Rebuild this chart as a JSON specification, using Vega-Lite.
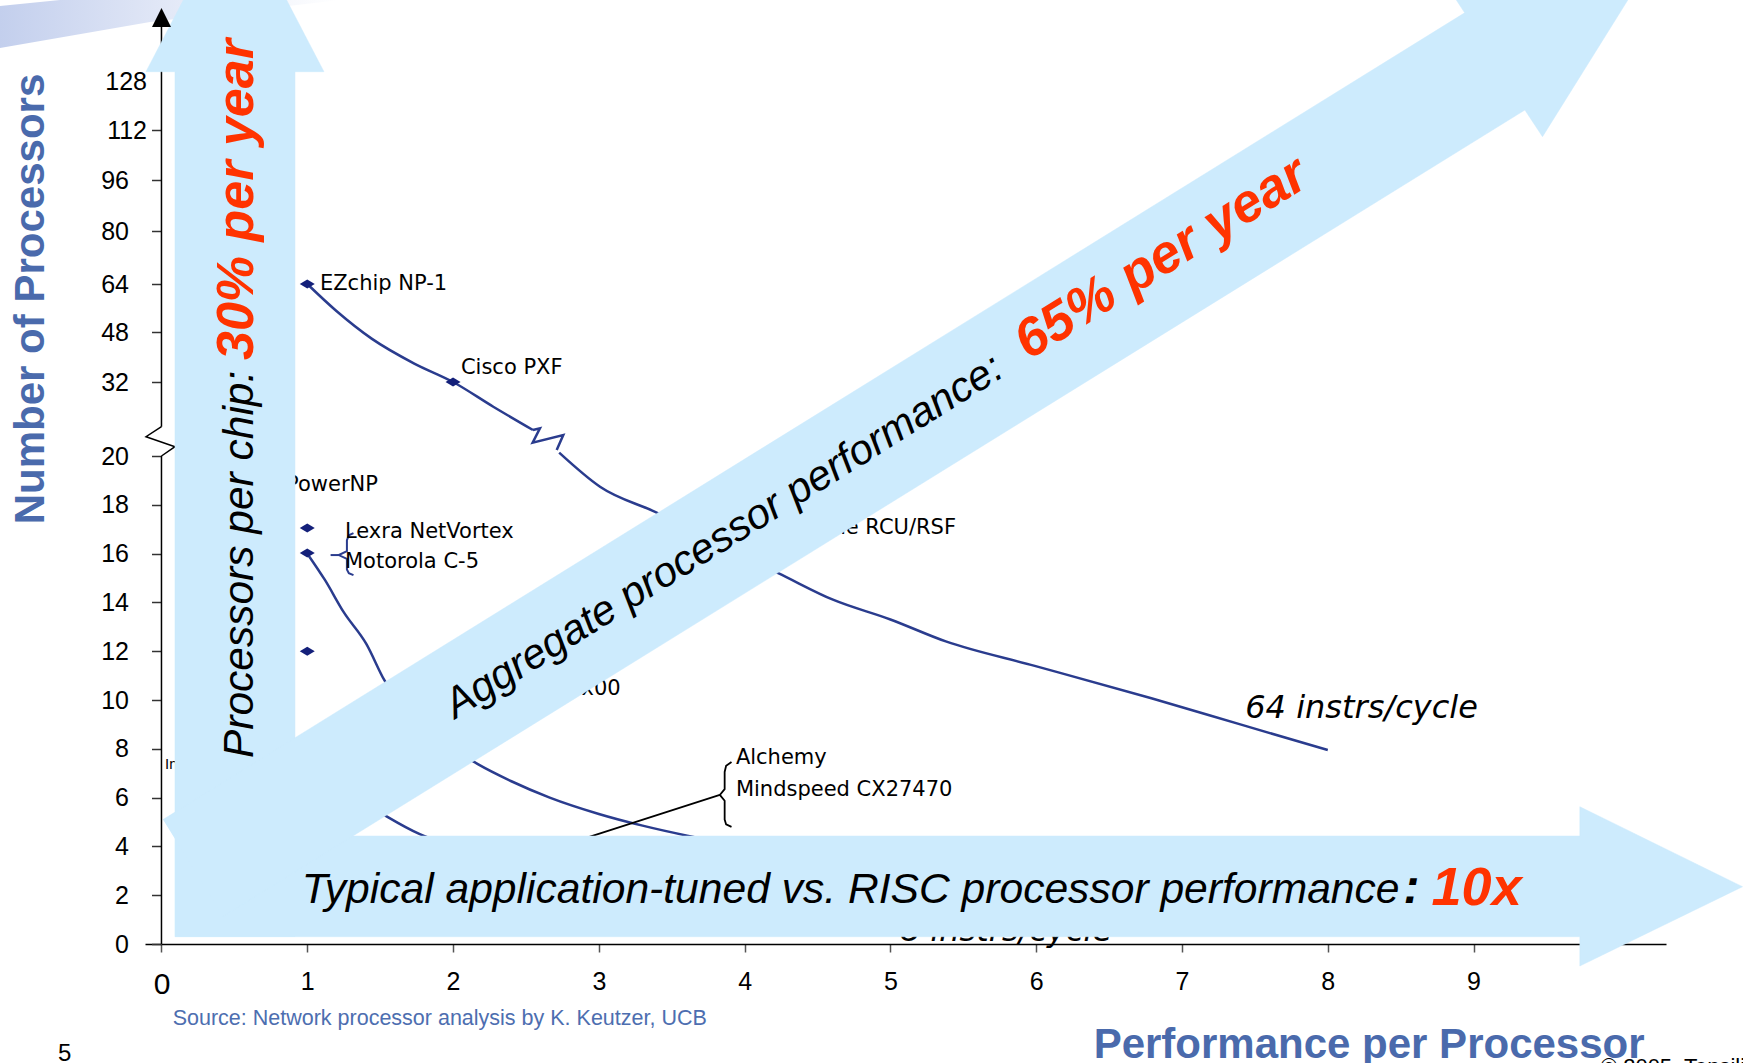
{
  "$schema": "https://vega.github.io/schema/vega-lite/v6.json",
  "width": 1521,
  "height": 936,
  "autosize": {"type": "none"},
  "padding": {"left": 145, "top": 8, "right": 77, "bottom": 119},
  "background": "white",
  "config": {"view": {"stroke": null}, "font": "Liberation Sans"},
  "datasets": {
    "swoosh": [
      {"x": -1.108, "y": 138.78, "i": 0}, {"x": -1.108, "y": 152.49, "i": 1}, {"x": -0.696, "y": 154.45, "i": 2},
      {"x": 1.224, "y": 154.45, "i": 3}, {"x": -0.079, "y": 147.27, "i": 4}
    ],
    "axisLine": [{"x": 0, "y": 0, "y2": 20}, {"x": 0, "y": 24.75, "y2": 145.6}],
    "axisBreak": [
      {"x": 0, "y": 24.75, "i": 0}, {"x": -0.106, "y": 23.13, "i": 1}, {"x": 0.0926, "y": 21.51, "i": 2}, {"x": 0, "y": 20, "i": 3}
    ],
    "axisTip": [{"x": 0, "y": 148.73}],
    "curves": [
      {"s": "64a", "x": 1, "y": 64}, {"s": "64a", "x": 1.2, "y": 55}, {"s": "64a", "x": 1.444, "y": 45.8},
      {"s": "64a", "x": 1.734, "y": 37.9}, {"s": "64a", "x": 2, "y": 32}, {"s": "64a", "x": 2.276, "y": 27.99},
      {"s": "64a", "x": 2.548, "y": 24.22},
      {"s": "64b", "x": 2.728, "y": 20.54}, {"s": "64b", "x": 3.008, "y": 18.74}, {"s": "64b", "x": 3.407, "y": 17.65},
      {"s": "64b", "x": 3.8, "y": 16.4}, {"s": "64b", "x": 4.23, "y": 15.2}, {"s": "64b", "x": 4.61, "y": 14.1},
      {"s": "64b", "x": 5.0, "y": 13.3}, {"s": "64b", "x": 5.38, "y": 12.4}, {"s": "64b", "x": 5.99, "y": 11.4},
      {"s": "64b", "x": 6.79, "y": 10.07}, {"s": "64b", "x": 7.4, "y": 9.0}, {"s": "64b", "x": 8.0, "y": 7.95},
      {"s": "16", "x": 1, "y": 16}, {"s": "16", "x": 1.121, "y": 14.92}, {"s": "16", "x": 1.25, "y": 13.6},
      {"s": "16", "x": 1.405, "y": 12.3}, {"s": "16", "x": 1.53, "y": 10.8}, {"s": "16", "x": 1.7, "y": 9.41},
      {"s": "16", "x": 2.0, "y": 8.0}, {"s": "16", "x": 2.17, "y": 7.37}, {"s": "16", "x": 2.4, "y": 6.67},
      {"s": "16", "x": 2.663, "y": 6.0}, {"s": "16", "x": 3.0, "y": 5.33}, {"s": "16", "x": 3.3, "y": 4.85},
      {"s": "16", "x": 3.606, "y": 4.44}, {"s": "16", "x": 4.0, "y": 4.0}, {"s": "16", "x": 4.5, "y": 3.56},
      {"s": "8", "x": 1, "y": 8}, {"s": "8", "x": 1.25, "y": 6.4}, {"s": "8", "x": 1.553, "y": 5.2},
      {"s": "8", "x": 1.772, "y": 4.5}, {"s": "8", "x": 2.0, "y": 4.0}, {"s": "8", "x": 2.5, "y": 3.2},
      {"s": "8", "x": 3.0, "y": 2.67}
    ],
    "zig": [
      {"x": 2.548, "y": 24.22, "i": 0}, {"x": 2.596, "y": 24.49, "i": 1}, {"x": 2.546, "y": 22.16, "i": 2},
      {"x": 2.756, "y": 23.4, "i": 3}, {"x": 2.711, "y": 20.97, "i": 4}
    ],
    "braceNavy": [
      {"s": "b", "i": 0, "x": 1.317, "y": 16.84}, {"s": "b", "i": 1, "x": 1.285, "y": 16.75}, {"s": "b", "i": 2, "x": 1.272, "y": 16.55},
      {"s": "b", "i": 3, "x": 1.272, "y": 16.1}, {"s": "b", "i": 4, "x": 1.216, "y": 15.94}, {"s": "b", "i": 5, "x": 1.272, "y": 15.78},
      {"s": "b", "i": 6, "x": 1.272, "y": 15.35}, {"s": "b", "i": 7, "x": 1.285, "y": 15.2}, {"s": "b", "i": 8, "x": 1.317, "y": 15.12},
      {"s": "d", "i": 0, "x": 1.16, "y": 15.94}, {"s": "d", "i": 1, "x": 1.216, "y": 15.94}
    ],
    "braceBlack": [
      {"s": "b", "i": 0, "x": 3.91, "y": 7.46}, {"s": "b", "i": 1, "x": 3.873, "y": 7.3}, {"s": "b", "i": 2, "x": 3.863, "y": 7.05},
      {"s": "b", "i": 3, "x": 3.863, "y": 6.35}, {"s": "b", "i": 4, "x": 3.83, "y": 6.11}, {"s": "b", "i": 5, "x": 3.863, "y": 5.87},
      {"s": "b", "i": 6, "x": 3.863, "y": 5.1}, {"s": "b", "i": 7, "x": 3.873, "y": 4.9}, {"s": "b", "i": 8, "x": 3.91, "y": 4.8},
      {"s": "l", "i": 0, "x": 3.83, "y": 6.11}, {"s": "l", "i": 1, "x": 2.94, "y": 4.4}, {"s": "l", "i": 2, "x": 2.7, "y": 3.93}
    ],
    "markers": [
      {"name": "EZchip NP-1", "x": 1, "y": 64}, {"name": "Cisco PXF", "x": 2, "y": 32},
      {"name": "Lexra NetVortex", "x": 1, "y": 17.05}, {"name": "Motorola C-5", "x": 1, "y": 16.02},
      {"name": "unlabeled", "x": 1, "y": 12}
    ],
    "labels": [
      {"k": "co", "text": "EZchip NP-1", "x": 1.087, "y": 64},
      {"k": "co", "text": "Cisco PXF", "x": 2.054, "y": 36.6},
      {"k": "co", "text": "Lexra NetVortex", "x": 1.2586, "y": 16.9},
      {"k": "co", "text": "Motorola C-5", "x": 1.2586, "y": 15.67},
      {"k": "co", "text": "Alchemy", "x": 3.94, "y": 7.62},
      {"k": "co", "text": "Mindspeed CX27470", "x": 3.94, "y": 6.31},
      {"k": "cor", "text": "IBM PowerNP", "x": 1.485, "y": 18.8},
      {"k": "cor", "text": "Cognigine RCU/RSF", "x": 5.45, "y": 17.05},
      {"k": "cor", "text": "Intel IXP2x00", "x": 3.15, "y": 10.45},
      {"k": "sm", "text": "Intel IXP1200", "x": 0.024, "y": 7.34},
      {"k": "it", "text": "64 instrs/cycle", "x": 7.434, "y": 9.25},
      {"k": "it", "text": "8 instrs/cycle", "x": 5.065, "y": 0.12}
    ],
    "arrows": [
      {"a": "v", "i": 0, "x": 0.0926, "y": 0.299}, {"a": "v", "i": 1, "x": 0.0926, "y": 131.04},
      {"a": "v", "i": 2, "x": -0.1063, "y": 131.04}, {"a": "v", "i": 3, "x": 0.5041, "y": 186.78},
      {"a": "v", "i": 4, "x": 1.1145, "y": 131.04}, {"a": "v", "i": 5, "x": 0.9156, "y": 131.04},
      {"a": "v", "i": 6, "x": 0.9156, "y": 0.299},
      {"a": "h", "i": 0, "x": 0.0926, "y": 4.426}, {"a": "h", "i": 1, "x": 9.729, "y": 4.426},
      {"a": "h", "i": 2, "x": 9.729, "y": 5.627}, {"a": "h", "i": 3, "x": 10.845, "y": 2.348},
      {"a": "h", "i": 4, "x": 9.729, "y": -0.902}, {"a": "h", "i": 5, "x": 9.729, "y": 0.299},
      {"a": "h", "i": 6, "x": 0.0926, "y": 0.299},
      {"a": "d", "i": 0, "x": 0.0103, "y": 5.098}, {"a": "d", "i": 1, "x": 8.939, "y": 150.27},
      {"a": "d", "i": 2, "x": 8.819, "y": 159.02}, {"a": "d", "i": 3, "x": 10.205, "y": 165.65},
      {"a": "d", "i": 4, "x": 9.473, "y": 109.86}, {"a": "d", "i": 5, "x": 9.352, "y": 118.53},
      {"a": "d", "i": 6, "x": 0.4218, "y": 1.127}
    ],
    "atext": [
      {"k": "vb", "text": "Processors per chip:", "x": 0.6276, "y": 7.62},
      {"k": "vr", "text": "30% per year", "x": 0.6276, "y": 39.04},
      {"k": "db", "text": "Aggregate processor performance:", "x": 2.017, "y": 9.21},
      {"k": "dr", "text": "65% per year", "x": 5.948, "y": 38.85},
      {"k": "hb", "text": "Typical application-tuned vs. RISC processor performance", "x": 0.963, "y": 1.668},
      {"k": "hc", "text": ":", "x": 8.52, "y": 1.668},
      {"k": "hr", "text": "10x", "x": 9.33, "y": 1.598},
      {"k": "src", "text": "Source: Network processor analysis by K. Keutzer, UCB", "x": 0.0768, "y": -3.32},
      {"k": "pg", "text": "5", "x": -0.71, "y": -4.8},
      {"k": "cp", "text": "© 2005, Tensilica, Inc.", "x": 9.873, "y": -5.33}
    ]
  },
  "encoding": {
    "x": {
      "field": "x", "type": "quantitative",
      "scale": {"domain": [-0.113, 10.32], "nice": false, "zero": false},
      "axis": {
        "values": [0, 1, 2, 3, 4, 5, 6, 7, 8, 9],
        "grid": false,
        "domainColor": "#000000", "domainWidth": 1.5,
        "tickColor": "#555555", "tickSize": 8, "tickWidth": 1.5,
        "labelFont": "Liberation Sans", "labelColor": "#000000",
        "labelFontSize": {"condition": {"test": "datum.value == 0", "value": 30}, "value": 25},
        "labelPadding": 17, "labelFlush": false, "labelOverlap": false,
        "title": "Performance per Processor",
        "titleFont": "Liberation Sans", "titleFontSize": 42, "titleFontWeight": "bold", "titleColor": "#4a6aac",
        "titleX": 1223.6, "titleY": 113, "titleAlign": "center", "titleBaseline": "alphabetic", "titleAngle": 0
      }
    },
    "y": {
      "field": "y", "type": "quantitative",
      "scale": {
        "domain": [0, 20, 32, 48, 64, 80, 96, 112, 128, 151.84],
        "range": [936, 448, 374, 324, 276, 223, 172, 122, 73, 0],
        "nice": false, "zero": false
      },
      "axis": {
        "values": [0, 2, 4, 6, 8, 10, 12, 14, 16, 18, 20, 32, 48, 64, 80, 96, 112, 128],
        "offset": -16.5,
        "domain": false, "grid": false,
        "tickColor": "#333333", "tickSize": 10, "tickWidth": 1.5,
        "tickOpacity": {"condition": {"test": "datum.value == 128", "value": 0}, "value": 1},
        "labelFont": "Liberation Sans", "labelColor": "#000000", "labelFontSize": 25,
        "labelPadding": {"condition": {"test": "datum.value >= 112", "value": 5}, "value": 23},
        "labelFlush": false, "labelOverlap": false,
        "title": "Number of Processors",
        "titleFont": "Liberation Sans", "titleFontSize": 42, "titleFontWeight": "bold", "titleColor": "#4a6aac",
        "titleX": -118.5, "titleY": 290.5, "titleAngle": -90, "titleAlign": "center", "titleBaseline": "alphabetic"
      }
    }
  },
  "layer": [
    {
      "data": {"name": "swoosh"},
      "mark": {"type": "line", "strokeWidth": 0, "fill": {"gradient": "linear", "x1": 0, "y1": 0, "x2": 1, "y2": 0, "stops": [{"offset": 0, "color": "#c3cfed"}, {"offset": 0.55, "color": "#e6ebf8"}, {"offset": 1, "color": "#ffffff"}]}},
      "encoding": {"order": {"field": "i", "type": "quantitative"}}
    },
    {
      "data": {"name": "axisLine"},
      "mark": {"type": "rule", "color": "#000000", "strokeWidth": 1.5},
      "encoding": {"y2": {"field": "y2"}}
    },
    {
      "data": {"name": "axisBreak"},
      "mark": {"type": "line", "color": "#000000", "strokeWidth": 1.5},
      "encoding": {"order": {"field": "i", "type": "quantitative"}}
    },
    {
      "data": {"name": "curves"},
      "mark": {"type": "line", "color": "#2a3c8e", "strokeWidth": 2.5, "interpolate": "monotone"},
      "encoding": {"detail": {"field": "s", "type": "nominal"}}
    },
    {
      "data": {"name": "zig"},
      "mark": {"type": "line", "color": "#2a3c8e", "strokeWidth": 2.5},
      "encoding": {"order": {"field": "i", "type": "quantitative"}}
    },
    {
      "data": {"name": "braceNavy"},
      "mark": {"type": "line", "color": "#2a3c8e", "strokeWidth": 2},
      "encoding": {"detail": {"field": "s", "type": "nominal"}, "order": {"field": "i", "type": "quantitative"}}
    },
    {
      "data": {"name": "braceBlack"},
      "mark": {"type": "line", "color": "#000000", "strokeWidth": 1.8},
      "encoding": {"detail": {"field": "s", "type": "nominal"}, "order": {"field": "i", "type": "quantitative"}}
    },
    {
      "data": {"name": "markers"},
      "mark": {"type": "point", "filled": true, "opacity": 1, "color": "#14207a", "shape": "M-1,0L0,-0.6L1,0L0,0.6Z", "size": 225}
    },
    {
      "data": {"name": "labels"},
      "transform": [{"filter": "datum.k == 'co'"}],
      "mark": {"type": "text", "font": "DejaVu Sans", "fontSize": 21, "color": "#000000", "align": "left", "baseline": "middle"},
      "encoding": {"text": {"field": "text"}}
    },
    {
      "data": {"name": "labels"},
      "transform": [{"filter": "datum.k == 'cor'"}],
      "mark": {"type": "text", "font": "DejaVu Sans", "fontSize": 21, "color": "#000000", "align": "right", "baseline": "middle"},
      "encoding": {"text": {"field": "text"}}
    },
    {
      "data": {"name": "labels"},
      "transform": [{"filter": "datum.k == 'sm'"}],
      "mark": {"type": "text", "font": "DejaVu Sans", "fontSize": 14, "color": "#000000", "align": "left", "baseline": "middle"},
      "encoding": {"text": {"field": "text"}}
    },
    {
      "data": {"name": "labels"},
      "transform": [{"filter": "datum.k == 'it'"}],
      "mark": {"type": "text", "font": "DejaVu Sans", "fontStyle": "italic", "fontSize": 32, "color": "#000000", "align": "left", "baseline": "alphabetic"},
      "encoding": {"text": {"field": "text"}}
    },
    {
      "data": {"name": "arrows"},
      "mark": {"type": "line", "fill": "#cdebfd", "stroke": "#cdebfd", "strokeWidth": 0.5},
      "encoding": {"detail": {"field": "a", "type": "nominal"}, "order": {"field": "i", "type": "quantitative"}}
    },
    {
      "data": {"name": "axisTip"},
      "mark": {"type": "point", "filled": true, "opacity": 1, "color": "#000000", "shape": "M0,-1L1,1L-1,1Z", "size": 361}
    },
    {
      "data": {"name": "atext"},
      "transform": [{"filter": "datum.k == 'vb'"}],
      "mark": {"type": "text", "angle": -90, "fontStyle": "italic", "fontSize": 42.5, "color": "#000000", "align": "left", "baseline": "alphabetic"},
      "encoding": {"text": {"field": "text"}}
    },
    {
      "data": {"name": "atext"},
      "transform": [{"filter": "datum.k == 'vr'"}],
      "mark": {"type": "text", "angle": -90, "fontStyle": "italic", "fontWeight": "bold", "fontSize": 52, "color": "#ff3300", "align": "left", "baseline": "alphabetic"},
      "encoding": {"text": {"field": "text"}}
    },
    {
      "data": {"name": "atext"},
      "transform": [{"filter": "datum.k == 'db'"}],
      "mark": {"type": "text", "angle": -32, "fontStyle": "italic", "fontSize": 42, "color": "#000000", "align": "left", "baseline": "alphabetic"},
      "encoding": {"text": {"field": "text"}}
    },
    {
      "data": {"name": "atext"},
      "transform": [{"filter": "datum.k == 'dr'"}],
      "mark": {"type": "text", "angle": -32, "fontStyle": "italic", "fontWeight": "bold", "fontSize": 54, "color": "#ff3300", "align": "left", "baseline": "alphabetic"},
      "encoding": {"text": {"field": "text"}}
    },
    {
      "data": {"name": "atext"},
      "transform": [{"filter": "datum.k == 'hb'"}],
      "mark": {"type": "text", "fontStyle": "italic", "fontSize": 42.6, "color": "#000000", "align": "left", "baseline": "alphabetic"},
      "encoding": {"text": {"field": "text"}}
    },
    {
      "data": {"name": "atext"},
      "transform": [{"filter": "datum.k == 'hc'"}],
      "mark": {"type": "text", "fontStyle": "italic", "fontWeight": "bold", "fontSize": 48, "color": "#000000", "align": "left", "baseline": "alphabetic"},
      "encoding": {"text": {"field": "text"}}
    },
    {
      "data": {"name": "atext"},
      "transform": [{"filter": "datum.k == 'hr'"}],
      "mark": {"type": "text", "fontStyle": "italic", "fontWeight": "bold", "fontSize": 54, "color": "#ff3300", "align": "right", "baseline": "alphabetic"},
      "encoding": {"text": {"field": "text"}}
    },
    {
      "data": {"name": "atext"},
      "transform": [{"filter": "datum.k == 'src'"}],
      "mark": {"type": "text", "fontSize": 21.5, "color": "#4d6eb0", "align": "left", "baseline": "alphabetic"},
      "encoding": {"text": {"field": "text"}}
    },
    {
      "data": {"name": "atext"},
      "transform": [{"filter": "datum.k == 'pg'"}],
      "mark": {"type": "text", "fontSize": 24, "color": "#000000", "align": "left", "baseline": "alphabetic"},
      "encoding": {"text": {"field": "text"}}
    },
    {
      "data": {"name": "atext"},
      "transform": [{"filter": "datum.k == 'cp'"}],
      "mark": {"type": "text", "fontSize": 22, "color": "#000000", "align": "left", "baseline": "alphabetic"},
      "encoding": {"text": {"field": "text"}}
    }
  ]
}
